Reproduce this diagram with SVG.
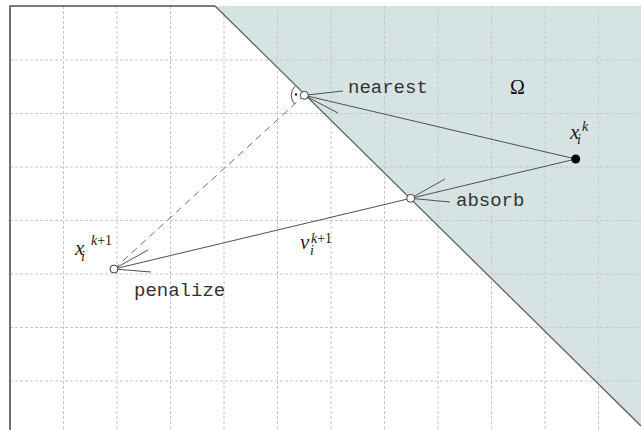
<svg xmlns="http://www.w3.org/2000/svg" width="641" height="430" viewBox="0 0 641 430">
<style>
.grid{stroke:#c8c8c8;stroke-width:1;stroke-dasharray:3 2;fill:none}
.ln{stroke:#505050;stroke-width:1;fill:none}
.dash{stroke:#707070;stroke-width:1;stroke-dasharray:7 5;fill:none}
.pt{fill:#fff;stroke:#404040;stroke-width:1}
.mono{font-family:"Liberation Mono",monospace;font-size:19px;fill:#333}
.math{font-family:"Liberation Serif",serif;font-style:italic;fill:#222;font-size:21px}
.s{font-size:14px}
</style>
<rect x="0" y="0" width="641" height="430" fill="#fff"/>
<polygon points="215,6 641,6 641,426" fill="#d5e3e3"/>
<g id="grid">
<path class="grid" d="M63.5,6V430M117,6V430M170.5,6V430M224,6V430M277.5,6V430M331,6V430M384.5,6V430M438,6V430M491.5,6V430M545,6V430M598.5,6V430"/>
<path class="grid" d="M10,60H641M10,113.5H641M10,167H641M10,220.5H641M10,274H641M10,327.5H641M10,381H641"/>
</g>
<path d="M10,430V6H215" stroke="#505050" stroke-width="1.6" fill="none"/>
<line x1="215" y1="6" x2="641" y2="426" stroke="#606060" stroke-width="1.3"/>
<g id="connectors">
<line class="ln" x1="575.7" y1="159" x2="304.3" y2="95.3"/>
<line class="ln" x1="575.7" y1="159" x2="410.7" y2="198.3"/>
<line class="ln" x1="410.7" y1="198.3" x2="114" y2="269"/>
<line class="dash" x1="114" y1="269" x2="304.3" y2="95.3"/>
<line class="ln" x1="304.3" y1="95.3" x2="343" y2="91"/>
<line class="ln" x1="304.3" y1="95.3" x2="338" y2="113"/>
<line class="ln" x1="410.7" y1="198.3" x2="445" y2="179"/>
<line class="ln" x1="410.7" y1="198.3" x2="450" y2="202"/>
<line class="ln" x1="114" y1="269" x2="148" y2="250"/>
<line class="ln" x1="114" y1="269" x2="151" y2="272"/>
<path class="ln" d="M295,86.2A13,13 0 0 0 294.7,104.1"/>
<circle cx="296" cy="94.5" r="1.2" fill="#222"/>
</g>
<g id="nearest">
<circle class="pt" cx="304.3" cy="95.3" r="4"/>
<text class="mono" x="348" y="93">nearest</text>
</g>
<g id="absorb">
<circle class="pt" cx="410.7" cy="198.3" r="4"/>
<text class="mono" x="456" y="205.5">absorb</text>
</g>
<g id="penalize">
<circle class="pt" cx="114" cy="269" r="4"/>
<text class="mono" x="134" y="296">penalize</text>
<text class="math" x="75" y="255">x<tspan class="s" x="81" y="261">i</tspan><tspan class="s" x="91" y="245">k<tspan font-style="normal">+1</tspan></tspan></text>
</g>
<g id="xk">
<circle cx="575.7" cy="159" r="4.5" fill="#000"/>
<text class="math" x="570" y="138.5">x<tspan class="s" x="577" y="144">i</tspan><tspan class="s" x="582" y="131">k</tspan></text>
</g>
<g id="v">
<text class="math" x="300" y="248.5">v<tspan class="s" x="310" y="255">i</tspan><tspan class="s" x="311" y="243">k<tspan font-style="normal">+1</tspan></tspan></text>
</g>
<g id="omega">
<text x="510" y="94" font-family="Liberation Serif,serif" font-size="20" fill="#111">Ω</text>
</g>
</svg>
